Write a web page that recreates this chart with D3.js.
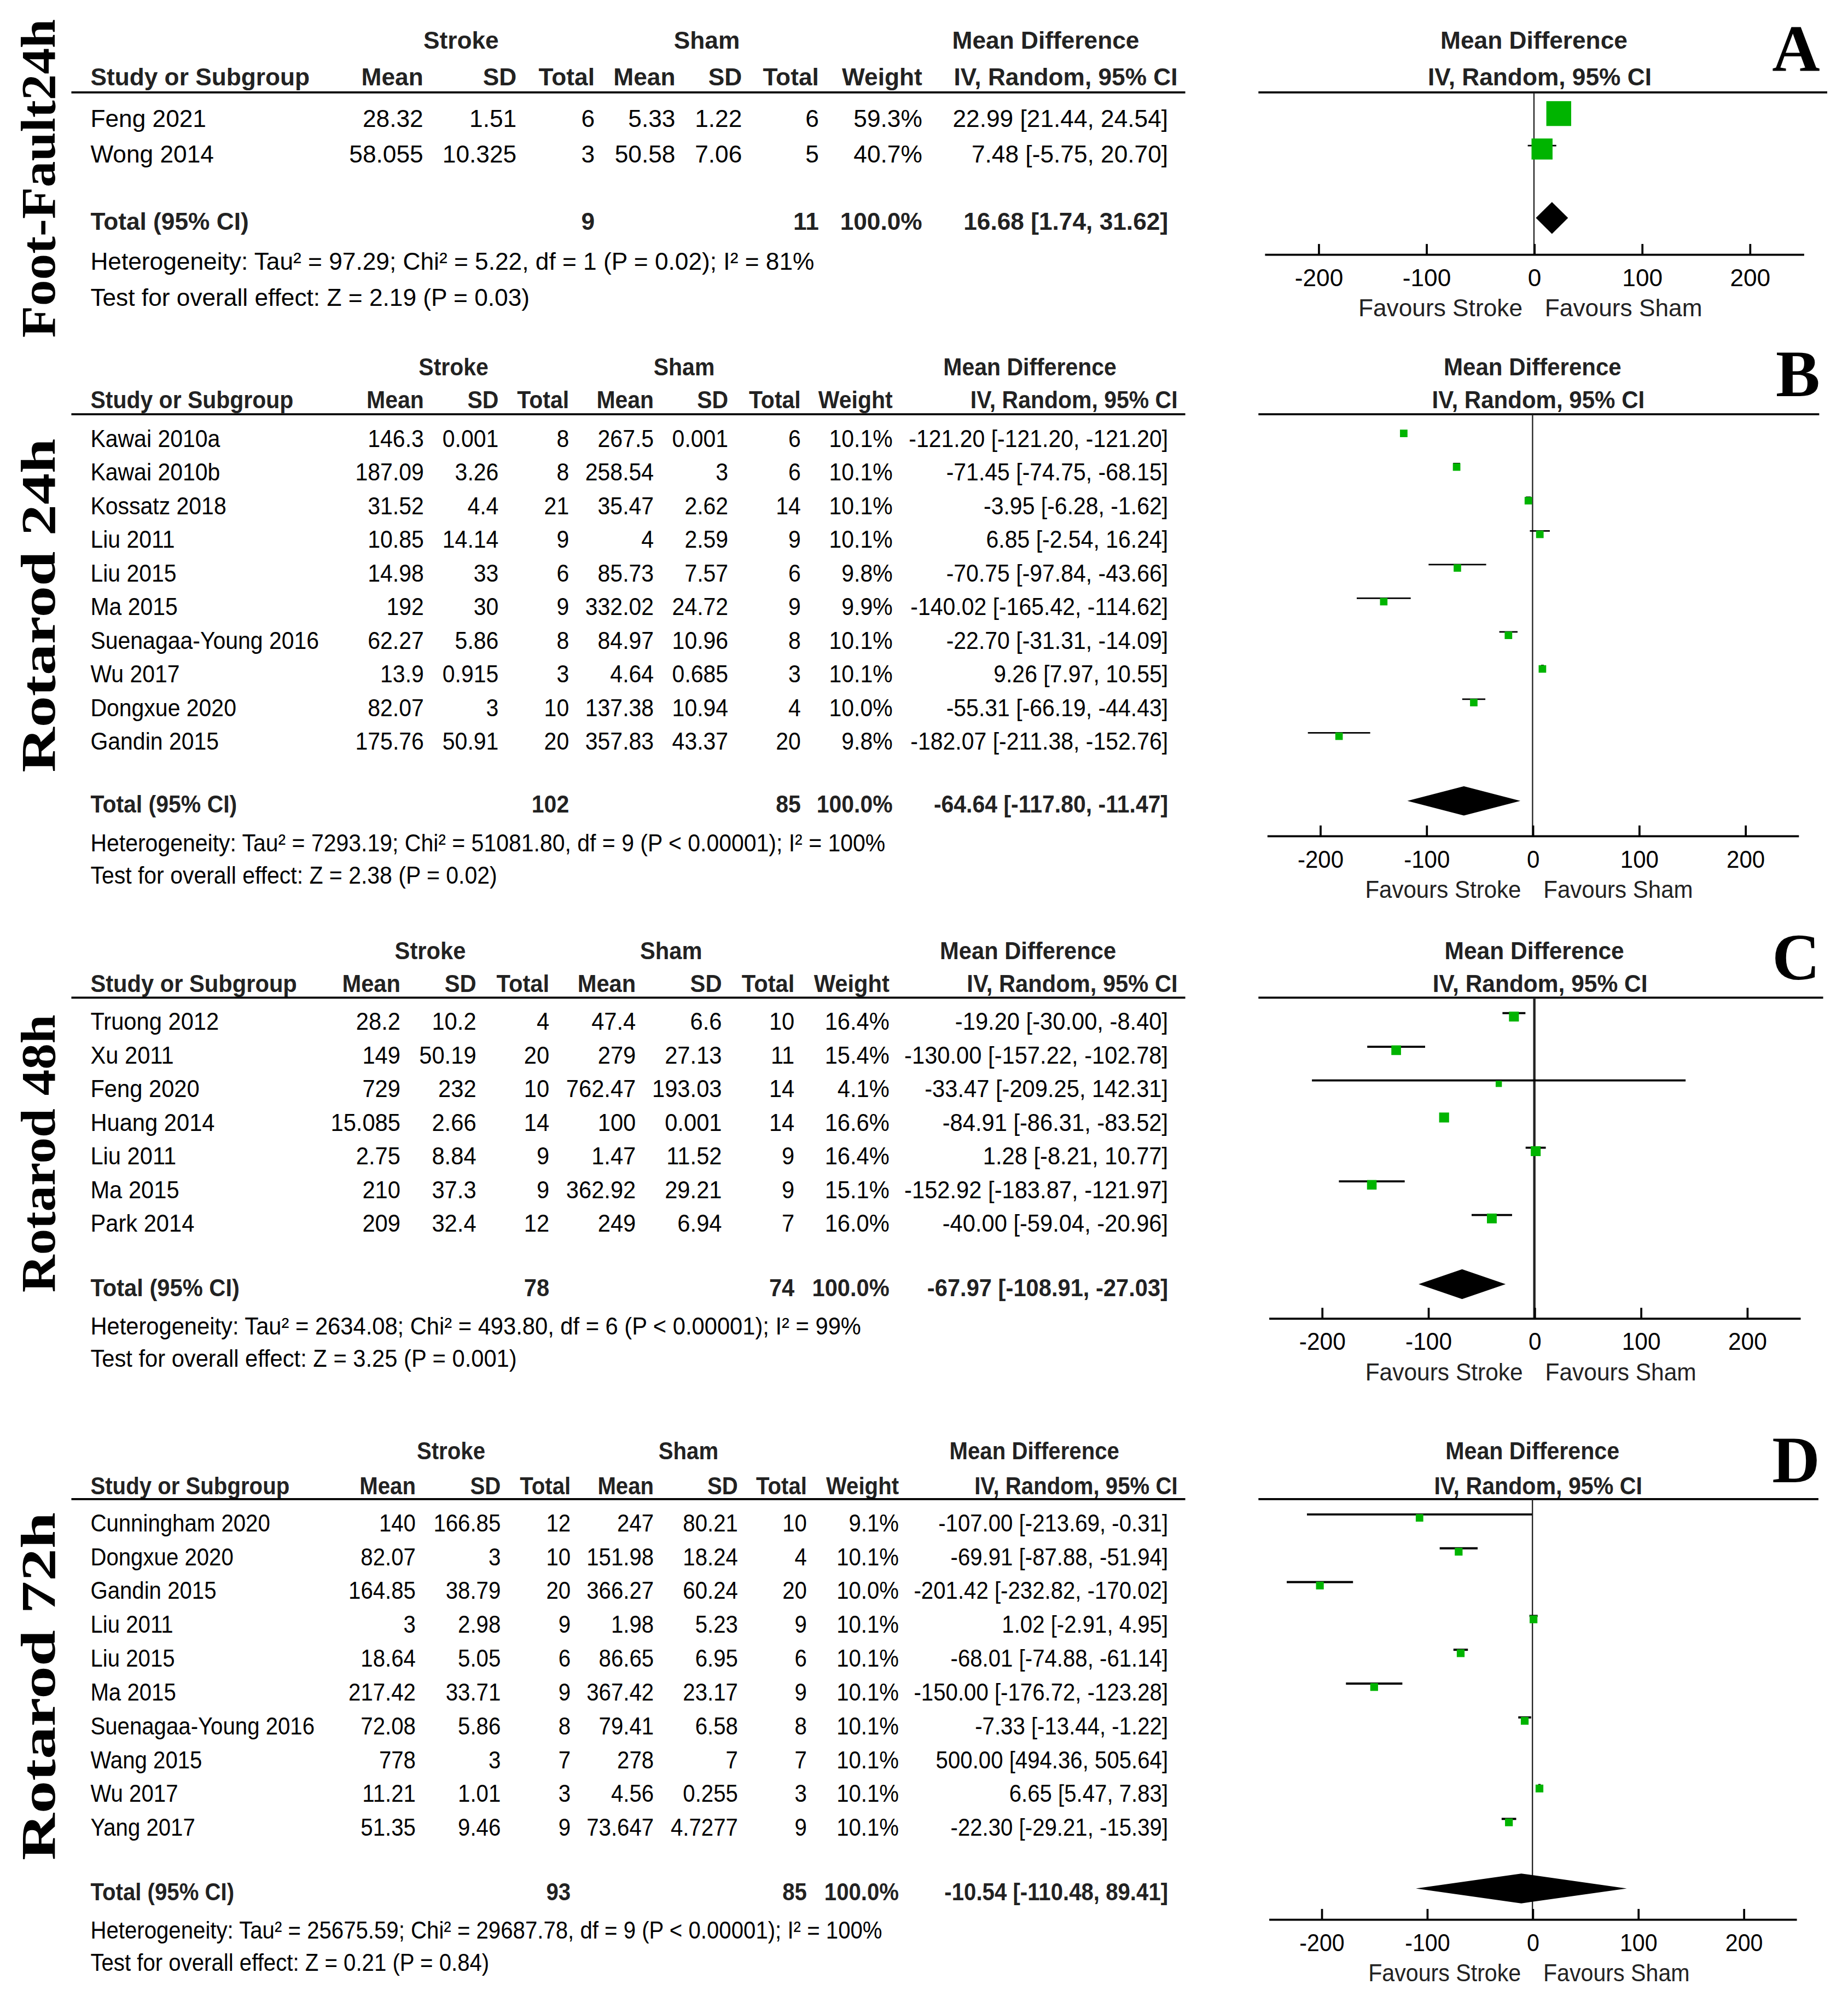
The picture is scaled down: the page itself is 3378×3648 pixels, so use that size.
<!DOCTYPE html>
<html>
<head>
<meta charset="utf-8">
<script src="https://cdn.jsdelivr.net/npm/d3@7"></script>
<style>
  body { margin: 0; background: #fff; }
  svg { display: block; }
</style>
</head>
<body>
<div id="forest"></div>
<script>
// ---- data ----
const panelTitles = ["Foot-Fault24h", "Rotarod 24h", "Rotarod 48h", "Rotarod 72h"];
const panelLetters = ["A", "B", "C", "D"];
const headerCols = ["Mean", "SD", "Total", "Mean", "SD", "Total", "Weight"];
const tickValues = [-200, -100, 0, 100, 200];

// study, stroke mean, sd, n, sham mean, sd, n, weight %, MD, lower, upper
const footFault24h = [
  ["Feng 2021", "28.32", "1.51", "6", "5.33", "1.22", "6", 59.3, 22.99, 21.44, 24.54],
  ["Wong 2014", "58.055", "10.325", "3", "50.58", "7.06", "5", 40.7, 7.48, -5.75, 20.70],
];
const rotarod24h = [
  ["Kawai 2010a", "146.3", "0.001", "8", "267.5", "0.001", "6", 10.1, -121.20, -121.20, -121.20],
  ["Kawai 2010b", "187.09", "3.26", "8", "258.54", "3", "6", 10.1, -71.45, -74.75, -68.15],
  ["Kossatz 2018", "31.52", "4.4", "21", "35.47", "2.62", "14", 10.1, -3.95, -6.28, -1.62],
  ["Liu 2011", "10.85", "14.14", "9", "4", "2.59", "9", 10.1, 6.85, -2.54, 16.24],
  ["Liu 2015", "14.98", "33", "6", "85.73", "7.57", "6", 9.8, -70.75, -97.84, -43.66],
  ["Ma 2015", "192", "30", "9", "332.02", "24.72", "9", 9.9, -140.02, -165.42, -114.62],
  ["Suenagaa-Young 2016", "62.27", "5.86", "8", "84.97", "10.96", "8", 10.1, -22.70, -31.31, -14.09],
  ["Wu 2017", "13.9", "0.915", "3", "4.64", "0.685", "3", 10.1, 9.26, 7.97, 10.55],
  ["Dongxue 2020", "82.07", "3", "10", "137.38", "10.94", "4", 10.0, -55.31, -66.19, -44.43],
  ["Gandin 2015", "175.76", "50.91", "20", "357.83", "43.37", "20", 9.8, -182.07, -211.38, -152.76],
];
const rotarod48h = [
  ["Truong 2012", "28.2", "10.2", "4", "47.4", "6.6", "10", 16.4, -19.20, -30.00, -8.40],
  ["Xu 2011", "149", "50.19", "20", "279", "27.13", "11", 15.4, -130.00, -157.22, -102.78],
  ["Feng 2020", "729", "232", "10", "762.47", "193.03", "14", 4.1, -33.47, -209.25, 142.31],
  ["Huang 2014", "15.085", "2.66", "14", "100", "0.001", "14", 16.6, -84.91, -86.31, -83.52],
  ["Liu 2011", "2.75", "8.84", "9", "1.47", "11.52", "9", 16.4, 1.28, -8.21, 10.77],
  ["Ma 2015", "210", "37.3", "9", "362.92", "29.21", "9", 15.1, -152.92, -183.87, -121.97],
  ["Park 2014", "209", "32.4", "12", "249", "6.94", "7", 16.0, -40.00, -59.04, -20.96],
];
const rotarod72h = [
  ["Cunningham 2020", "140", "166.85", "12", "247", "80.21", "10", 9.1, -107.00, -213.69, -0.31],
  ["Dongxue 2020", "82.07", "3", "10", "151.98", "18.24", "4", 10.1, -69.91, -87.88, -51.94],
  ["Gandin 2015", "164.85", "38.79", "20", "366.27", "60.24", "20", 10.0, -201.42, -232.82, -170.02],
  ["Liu 2011", "3", "2.98", "9", "1.98", "5.23", "9", 10.1, 1.02, -2.91, 4.95],
  ["Liu 2015", "18.64", "5.05", "6", "86.65", "6.95", "6", 10.1, -68.01, -74.88, -61.14],
  ["Ma 2015", "217.42", "33.71", "9", "367.42", "23.17", "9", 10.1, -150.00, -176.72, -123.28],
  ["Suenagaa-Young 2016", "72.08", "5.86", "8", "79.41", "6.58", "8", 10.1, -7.33, -13.44, -1.22],
  ["Wang 2015", "778", "3", "7", "278", "7", "7", 10.1, 500.00, 494.36, 505.64],
  ["Wu 2017", "11.21", "1.01", "3", "4.56", "0.255", "3", 10.1, 6.65, 5.47, 7.83],
  ["Yang 2017", "51.35", "9.46", "9", "73.647", "4.7277", "9", 10.1, -22.30, -29.21, -15.39],
];

// stroke N, sham N, MD, lower, upper
const totals = [
  ["9", "11", 16.68, 1.74, 31.62],
  ["102", "85", -64.64, -117.80, -11.47],
  ["78", "74", -67.97, -108.91, -27.03],
  ["93", "85", -10.54, -110.48, 89.41],
];
const heterogeneity = [
  "Heterogeneity: Tau² = 97.29; Chi² = 5.22, df = 1 (P = 0.02); I² = 81%",
  "Heterogeneity: Tau² = 7293.19; Chi² = 51081.80, df = 9 (P < 0.00001); I² = 100%",
  "Heterogeneity: Tau² = 2634.08; Chi² = 493.80, df = 6 (P < 0.00001); I² = 99%",
  "Heterogeneity: Tau² = 25675.59; Chi² = 29687.78, df = 9 (P < 0.00001); I² = 100%",
];
const overallEffect = [
  "Test for overall effect: Z = 2.19 (P = 0.03)",
  "Test for overall effect: Z = 2.38 (P = 0.02)",
  "Test for overall effect: Z = 3.25 (P = 0.001)",
  "Test for overall effect: Z = 0.21 (P = 0.84)",
];
const panelRows = [footFault24h, rotarod24h, rotarod48h, rotarod72h];

// ---- layout (in a 1450-wide coordinate system) ----
const layouts = [
  { cols: [332.1, 405.3, 466.6, 529.9, 582.2, 642.5, 723.6], groupX: [361.8, 554.6, 820.5],
    h1: 31.4, h2: 60.1, line: 72.5, row0: 92.8, pitch: 27.8, totalY: 173.5, hetY: 204.8, testY: 233.3,
    axisY: 199.4, xRange: [992.1, 1415.1], plotLine: [987.4, 1433.7], maxSq: 19.5, dH: 12.5,
    ciW: 1.2, zeroW: 1, letterY: 55.2, labelCy: 140, labelLen: 250, sx: 1.0, sxPlot: 1.0 },
  { cols: [332.6, 391.2, 446.5, 513, 571.4, 628.3, 700.4], groupX: [355.9, 536.8, 808.1],
    h1: 287.7, h2: 313.4, line: 325, row0: 343.7, pitch: 26.4, totalY: 630.8, hetY: 661.2, testY: 686.3,
    axisY: 655.6, xRange: [994, 1411], plotLine: [987.4, 1427.4], maxSq: 5.9, dH: 11.5,
    ciW: 1.2, zeroW: 1, letterY: 310.7, labelCy: 475, labelLen: 262, sx: 0.926, sxPlot: 0.95 },
  { cols: [314.2, 373.7, 431, 498.9, 566.4, 623.4, 697.9], groupX: [337.6, 526.6, 806.6],
    h1: 745.7, h2: 771.6, line: 782.7, row0: 801.2, pitch: 26.4, totalY: 1009.9, hetY: 1040.2, testY: 1065.5,
    axisY: 1034, xRange: [995.4, 1412.4], plotLine: [987.4, 1430.5], maxSq: 7.8, dH: 11.7,
    ciW: 1.6, zeroW: 1.9, letterY: 768.5, labelCy: 905, labelLen: 218, sx: 0.942, sxPlot: 0.96 },
  { cols: [326.2, 392.9, 447.8, 513, 579, 633.1, 705.3], groupX: [353.9, 540.2, 811.6],
    h1: 1138.1, h2: 1165.3, line: 1176.1, row0: 1194.5, pitch: 26.54, totalY: 1484, hetY: 1513.8, testY: 1539.5,
    axisY: 1505.6, xRange: [995.4, 1409.4], plotLine: [987.4, 1426.8], maxSq: 6.1, dH: 11.7,
    ciW: 1.7, zeroW: 1, letterY: 1163, labelCy: 1323, labelLen: 273, sx: 0.908, sxPlot: 0.93 },
];

const W = 1450, H = 1450 * 3648 / 3378;
const fs = 19;
const sans = "'Liberation Sans', Arial, sans-serif";
const serif = "'Liberation Serif', 'Times New Roman', serif";
const ciRight = 916.5;

const svg = d3.select("#forest").append("svg")
  .attr("width", 3378).attr("height", 3648)
  .attr("viewBox", `0 0 ${W} ${H}`)
  .style("font-family", sans);

// text squeezed horizontally by sx (the source figure uses a narrow face)
function txt(g, x, y, s, anchor, bold, color, sx) {
  sx = sx || 1;
  return g.append("text")
    .attr("transform", `scale(${sx},1)`)
    .attr("x", x / sx).attr("y", y).attr("dy", "0.36em")
    .attr("text-anchor", anchor || "start")
    .attr("font-size", fs)
    .attr("font-weight", bold ? "bold" : "normal")
    .attr("fill", color || "#000")
    .text(s);
}

const fmtCI = (m, l, u) => `${m.toFixed(2)} [${l.toFixed(2)}, ${u.toFixed(2)}]`;

panelRows.forEach((rows, p) => {
  const L = layouts[p];
  const g = svg.append("g");
  const hdr = "#222";
  const sx = L.sx;

  // vertical panel title
  g.append("text")
    .attr("transform", `translate(43,${L.labelCy}) rotate(-90)`)
    .attr("text-anchor", "middle")
    .attr("font-family", serif).attr("font-weight", "bold")
    .attr("font-size", 38)
    .attr("textLength", L.labelLen).attr("lengthAdjust", "spacingAndGlyphs")
    .text(panelTitles[p]);

  // panel letter
  g.append("text")
    .attr("x", 1428).attr("y", L.letterY)
    .attr("text-anchor", "end")
    .attr("font-family", serif).attr("font-weight", "bold")
    .attr("font-size", 52)
    .text(panelLetters[p]);

  // table headers
  txt(g, L.groupX[0], L.h1, "Stroke", "middle", true, hdr, sx);
  txt(g, L.groupX[1], L.h1, "Sham", "middle", true, hdr, sx);
  txt(g, L.groupX[2], L.h1, "Mean Difference", "middle", true, hdr, sx);
  txt(g, 71, L.h2, "Study or Subgroup", "start", true, hdr, sx);
  headerCols.forEach((h, i) => txt(g, L.cols[i], L.h2, h, "end", true, hdr, sx));
  txt(g, ciRight + 7.5, L.h2, "IV, Random, 95% CI", "end", true, hdr, sx);

  g.append("line").attr("x1", 56).attr("x2", 930)
    .attr("y1", L.line).attr("y2", L.line)
    .attr("stroke", "#000").attr("stroke-width", 1.6);

  // study rows
  rows.forEach((r, i) => {
    const y = L.row0 + i * L.pitch;
    txt(g, 71, y, r[0], "start", false, "#000", sx);
    for (let c = 1; c <= 6; c++) txt(g, L.cols[c - 1], y, r[c], "end", false, "#000", sx);
    txt(g, L.cols[6], y, r[7].toFixed(1) + "%", "end", false, "#000", sx);
    txt(g, ciRight, y, fmtCI(r[8], r[9], r[10]), "end", false, "#000", sx);
  });

  // total + footer
  const t = totals[p];
  txt(g, 71, L.totalY, "Total (95% CI)", "start", true, hdr, sx);
  txt(g, L.cols[2], L.totalY, t[0], "end", true, hdr, sx);
  txt(g, L.cols[5], L.totalY, t[1], "end", true, hdr, sx);
  txt(g, L.cols[6], L.totalY, "100.0%", "end", true, hdr, sx);
  txt(g, ciRight, L.totalY, fmtCI(t[2], t[3], t[4]), "end", true, hdr, sx);
  txt(g, 71, L.hetY, heterogeneity[p], "start", false, "#000", sx);
  txt(g, 71, L.testY, overallEffect[p], "start", false, "#000", sx);

  // forest plot
  const x = d3.scaleLinear().domain([-250, 250]).range(L.xRange);
  const size = d3.scaleSqrt().domain([0, d3.max(rows, (d) => d[7])]).range([2, L.maxSq]);

  txt(g, x(0), L.h1, "Mean Difference", "middle", true, hdr, L.sxPlot);
  txt(g, x(0) + 4.5, L.h2, "IV, Random, 95% CI", "middle", true, hdr, L.sxPlot);

  g.append("line").attr("x1", L.plotLine[0]).attr("x2", L.plotLine[1])
    .attr("y1", L.line).attr("y2", L.line)
    .attr("stroke", "#000").attr("stroke-width", 1.6);

  g.append("line").attr("x1", x(0)).attr("x2", x(0))
    .attr("y1", L.line).attr("y2", L.axisY)
    .attr("stroke", "#222").attr("stroke-width", L.zeroW);

  const visible = rows
    .map((r, i) => ({ r, y: L.row0 + i * L.pitch }))
    .filter((d) => d.r[8] >= -250 && d.r[8] <= 250);

  g.selectAll(".ci").data(visible).enter().append("line")
    .attr("x1", (d) => x(Math.max(-250, d.r[9])))
    .attr("x2", (d) => x(Math.min(250, d.r[10])))
    .attr("y1", (d) => d.y - 6.4).attr("y2", (d) => d.y - 6.4)
    .attr("stroke", "#000").attr("stroke-width", L.ciW);

  g.selectAll(".sq").data(visible).enter().append("rect")
    .attr("x", (d) => x(d.r[8]) - size(d.r[7]) / 2)
    .attr("y", (d) => d.y - 3.7 - size(d.r[7]) / 2)
    .attr("width", (d) => size(d.r[7]))
    .attr("height", (d) => size(d.r[7]))
    .attr("fill", "#00b400");

  const dy = L.totalY - 2.5;
  g.append("path")
    .attr("d", `M${x(t[3])},${dy} L${x(t[2])},${dy - L.dH} L${x(t[4])},${dy} L${x(t[2])},${dy + L.dH} Z`)
    .attr("fill", "#000");

  const axis = g.append("g")
    .attr("transform", `translate(0,${L.axisY})`)
    .call(d3.axisBottom(x).tickValues(tickValues).tickFormat((d) => String(d))
      .tickSizeInner(-8).tickSizeOuter(0).tickPadding(11.5));
  axis.attr("font-size", fs).attr("font-family", sans);
  axis.select(".domain").attr("stroke", "#000").attr("stroke-width", 1.6);
  axis.selectAll(".tick line").attr("stroke", "#000").attr("stroke-width", 1.6);
  axis.selectAll(".tick text").attr("fill", "#000")
    .attr("transform", `scale(${L.sxPlot},1)`);

  const fy = L.axisY + 42;
  txt(g, x(0) - 9, fy, "Favours Stroke", "end", false, "#222", L.sxPlot);
  txt(g, x(0) + 8.5, fy, "Favours Sham", "start", false, "#222", L.sxPlot);
});
</script>
</body>
</html>
